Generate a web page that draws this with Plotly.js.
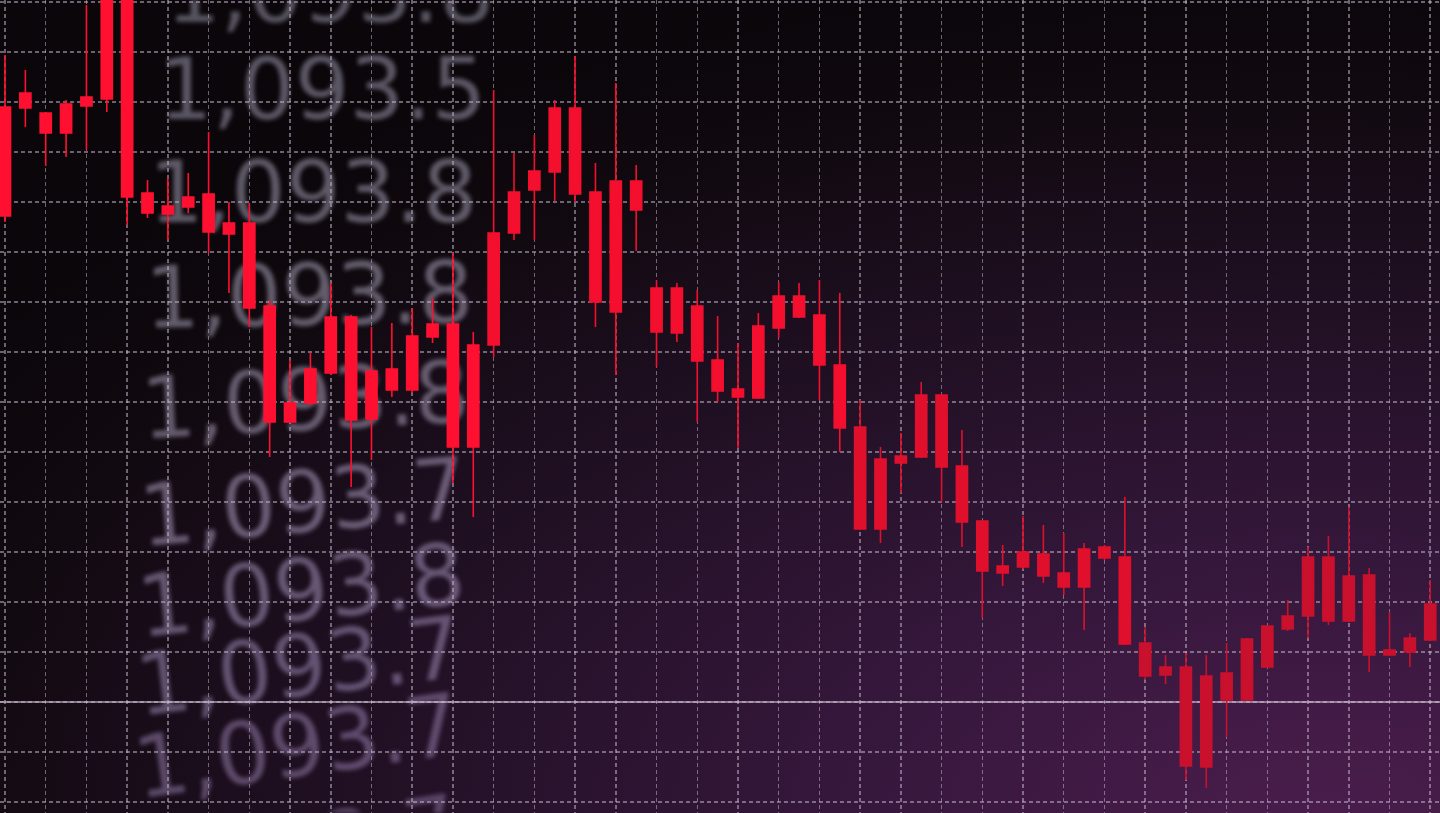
<!DOCTYPE html>
<html>
<head>
<meta charset="utf-8">
<script src="https://cdn.plot.ly/plotly-3.0.1.min.js"></script>
<style>
  html, body { margin: 0; padding: 0; width: 1440px; height: 813px; overflow: hidden; }
  body {
    background:
      radial-gradient(ellipse 115% 105% at 92% 100%, #4a1d4c 0%, #35173b 30%, #211024 58%, #10090f 85%, #0a060a 100%);
  }
  #bgtext { position: absolute; left: 0; top: 0; width: 1440px; height: 813px; filter: blur(2px); }
  #chart  { position: absolute; left: 0; top: 0; width: 1440px; height: 813px; }
</style>
</head>
<body>
<div id="bgtext"></div>
<div id="chart"></div>
<script>
// ---------------- DATA ----------------
const session = [0,1,2,3,4,5,6,7,8,9,10,11,12,13,14,15,16,17,18,19,20,21,22,23,24,25,26,27,28,29,
  30,31,32,33,34,35,36,37,38,39,40,41,42,43,44,45,46,47,48,49,50,51,52,53,54,55,56,57,58,59,
  60,61,62,63,64,65,66,67,68,69,70];

const openP = [1107.90,1107.88,1107.78,1107.38,1108.10,1108.06,1111.04,1106.18,1105.92,1105.90,
  1106.16,1105.58,1105.58,1103.92,1101.60,1101.98,1102.58,1103.70,1102.62,1102.24,
  1102.24,1103.30,1103.56,1101.10,1103.14,1105.38,1106.24,1106.60,1107.88,1106.20,
  1103.80,1106.42,1104.28,1104.28,1103.92,1102.84,1102.26,1102.08,1103.48,1104.12,
  1103.74,1102.74,1101.50,1099.46,1100.92,1100.90,1102.14,1100.72,1099.62,1098.72,
  1098.70,1098.96,1098.58,1098.30,1099.10,1098.90,1097.18,1096.70,1096.70,1094.70,
  1096.04,1096.04,1096.70,1097.46,1097.72,1098.90,1097.62,1098.54,1097.04,1097.00,1097.24];

const highP = [1108.94,1108.64,1107.80,1108.04,1109.94,1111.24,1111.44,1106.44,1106.48,1106.58,
  1107.40,1106.00,1105.98,1104.04,1102.84,1102.98,1104.38,1103.74,1103.50,1103.58,
  1103.88,1104.08,1104.98,1103.40,1108.24,1106.98,1107.34,1108.04,1108.92,1106.78,
  1108.38,1106.74,1104.44,1104.38,1104.24,1103.72,1103.18,1103.78,1104.40,1104.38,
  1104.44,1104.18,1102.04,1101.10,1101.38,1102.40,1102.16,1101.44,1099.64,1099.14,
  1099.72,1099.54,1099.38,1099.18,1099.14,1100.10,1097.50,1096.94,1096.98,1096.94,
  1097.18,1097.28,1097.54,1098.04,1099.10,1099.32,1099.90,1098.68,1097.80,1097.38,1098.44];

const lowP = [1105.60,1107.50,1106.72,1106.90,1107.04,1107.80,1105.54,1105.68,1105.24,1105.78,
  1104.98,1104.18,1103.50,1100.90,1101.58,1101.94,1102.54,1100.30,1100.84,1102.10,
  1102.18,1103.18,1100.38,1099.70,1102.90,1105.24,1105.24,1106.02,1106.00,1103.50,
  1102.54,1105.02,1102.70,1103.20,1101.60,1102.00,1101.08,1102.06,1103.28,1103.68,
  1102.04,1101.00,1099.44,1099.18,1100.18,1100.88,1100.00,1099.10,1097.68,1098.32,
  1098.66,1098.38,1098.14,1097.44,1098.84,1097.14,1096.44,1096.36,1094.44,1094.28,
  1095.30,1096.02,1096.68,1097.42,1097.28,1097.54,1097.60,1096.60,1096.92,1096.70,1097.22];

const closeP = [1105.72,1108.18,1107.38,1107.96,1107.92,1110.84,1106.10,1105.78,1105.76,1106.10,
  1105.40,1105.36,1103.88,1101.60,1101.98,1102.66,1103.70,1101.64,1101.66,1102.66,
  1103.32,1103.56,1101.10,1103.14,1105.38,1106.20,1106.62,1107.88,1106.16,1104.00,
  1106.42,1105.84,1103.40,1103.38,1102.82,1102.22,1102.10,1103.52,1104.12,1103.70,
  1102.74,1101.48,1099.46,1100.86,1100.78,1102.14,1100.70,1099.60,1098.62,1098.58,
  1099.00,1098.52,1098.30,1099.06,1098.88,1097.16,1096.52,1096.54,1094.72,1096.52,
  1096.58,1097.26,1097.52,1097.72,1098.90,1097.62,1098.52,1096.94,1096.94,1097.28,1097.96];

// decorative price read-outs behind the chart
const priceLabels = ["1,093.8","1,093.5","1,093.8","1,093.8","1,093.8","1,093.7","1,093.8","1,093.7","1,093.7","1,093.7"];

// reference level drawn as the brighter solid line
const refLevel = 1096;

// ---------------- LAYOUT / STYLE ----------------
const bands = [
  {from: 0,  to: 24, color: '#ff1030'},
  {from: 24, to: 42, color: '#f40f2e'},
  {from: 42, to: 56, color: '#e0102d'},
  {from: 56, to: 71, color: '#c9102c'}
];

const traces = bands.map(b => ({
  type: 'candlestick',
  x: session.slice(b.from, b.to),
  open: openP.slice(b.from, b.to),
  high: highP.slice(b.from, b.to),
  low: lowP.slice(b.from, b.to),
  close: closeP.slice(b.from, b.to),
  increasing: {line: {color: b.color, width: 1.6}, fillcolor: b.color},
  decreasing: {line: {color: b.color, width: 1.6}, fillcolor: b.color},
  whiskerwidth: 0,
  showlegend: false,
  hoverinfo: 'skip'
}));

const gridColor = 'rgba(200,185,205,0.52)';

const layout = {
  width: 1440, height: 813,
  margin: {l: 0, r: 0, t: 0, b: 0, pad: 0},
  paper_bgcolor: 'rgba(0,0,0,0)',
  plot_bgcolor: 'rgba(0,0,0,0)',
  showlegend: false,
  boxgap: 0.22,
  xaxis: {
    type: 'linear',
    range: [-0.2456, 70.48],
    tick0: 0, dtick: 2,
    showgrid: true, gridcolor: gridColor, gridwidth: 1.5, griddash: '4px,3px',
    showticklabels: false, ticks: '', zeroline: false, showline: false,
    rangeslider: {visible: false}, fixedrange: true
  },
  yaxis: {
    range: [1093.78, 1110.04],
    tick0: 1094, dtick: 1,
    showgrid: true, gridcolor: gridColor, gridwidth: 1.5, griddash: '4px,3px',
    showticklabels: false, ticks: '', zeroline: false, showline: false, fixedrange: true
  },
  shapes: [{
    type: 'line', xref: 'paper', x0: 0, x1: 1, yref: 'y', y0: refLevel, y1: refLevel,
    line: {color: 'rgba(225,205,225,0.72)', width: 1.6}, layer: 'below'
  }]
};

// text rows: position of each read-out in pixels (perspective tilt grows downward)
const rowPos = [
  {x: 330, y: -8,  a: 0,   c: 'rgba(150,145,165,0.55)'},
  {x: 322, y: 89,  a: 0,   c: 'rgba(150,145,165,0.58)'},
  {x: 313, y: 192, a: 0,   c: 'rgba(150,145,165,0.60)'},
  {x: 309, y: 295, a: -1,  c: 'rgba(155,148,170,0.60)'},
  {x: 305, y: 400, a: -3,  c: 'rgba(160,150,175,0.58)'},
  {x: 303, y: 502, a: -5,  c: 'rgba(165,150,185,0.58)'},
  {x: 301, y: 590, a: -6,  c: 'rgba(165,148,188,0.55)'},
  {x: 299, y: 666, a: -7,  c: 'rgba(165,145,190,0.52)'},
  {x: 297, y: 746, a: -8,  c: 'rgba(165,140,190,0.48)'},
  {x: 295, y: 850, a: -9,  c: 'rgba(165,140,190,0.42)'}
];

const textLayout = {
  width: 1440, height: 813,
  margin: {l: 0, r: 0, t: 0, b: 0},
  paper_bgcolor: 'rgba(0,0,0,0)', plot_bgcolor: 'rgba(0,0,0,0)',
  xaxis: {visible: false, range: [0, 1]}, yaxis: {visible: false, range: [0, 1]},
  annotations: priceLabels.map((t, i) => ({
    text: t, xref: 'paper', yref: 'paper',
    x: rowPos[i].x / 1440, y: 1 - rowPos[i].y / 813,
    xanchor: 'center', yanchor: 'middle', showarrow: false,
    textangle: rowPos[i].a,
    font: {family: 'DejaVu Sans, Verdana, sans-serif', size: 86, color: rowPos[i].c}
  }))
};

Plotly.newPlot('bgtext', [], textLayout, {staticPlot: true, displayModeBar: false});
Plotly.newPlot('chart', traces, layout, {staticPlot: true, displayModeBar: false});
</script>
</body>
</html>
